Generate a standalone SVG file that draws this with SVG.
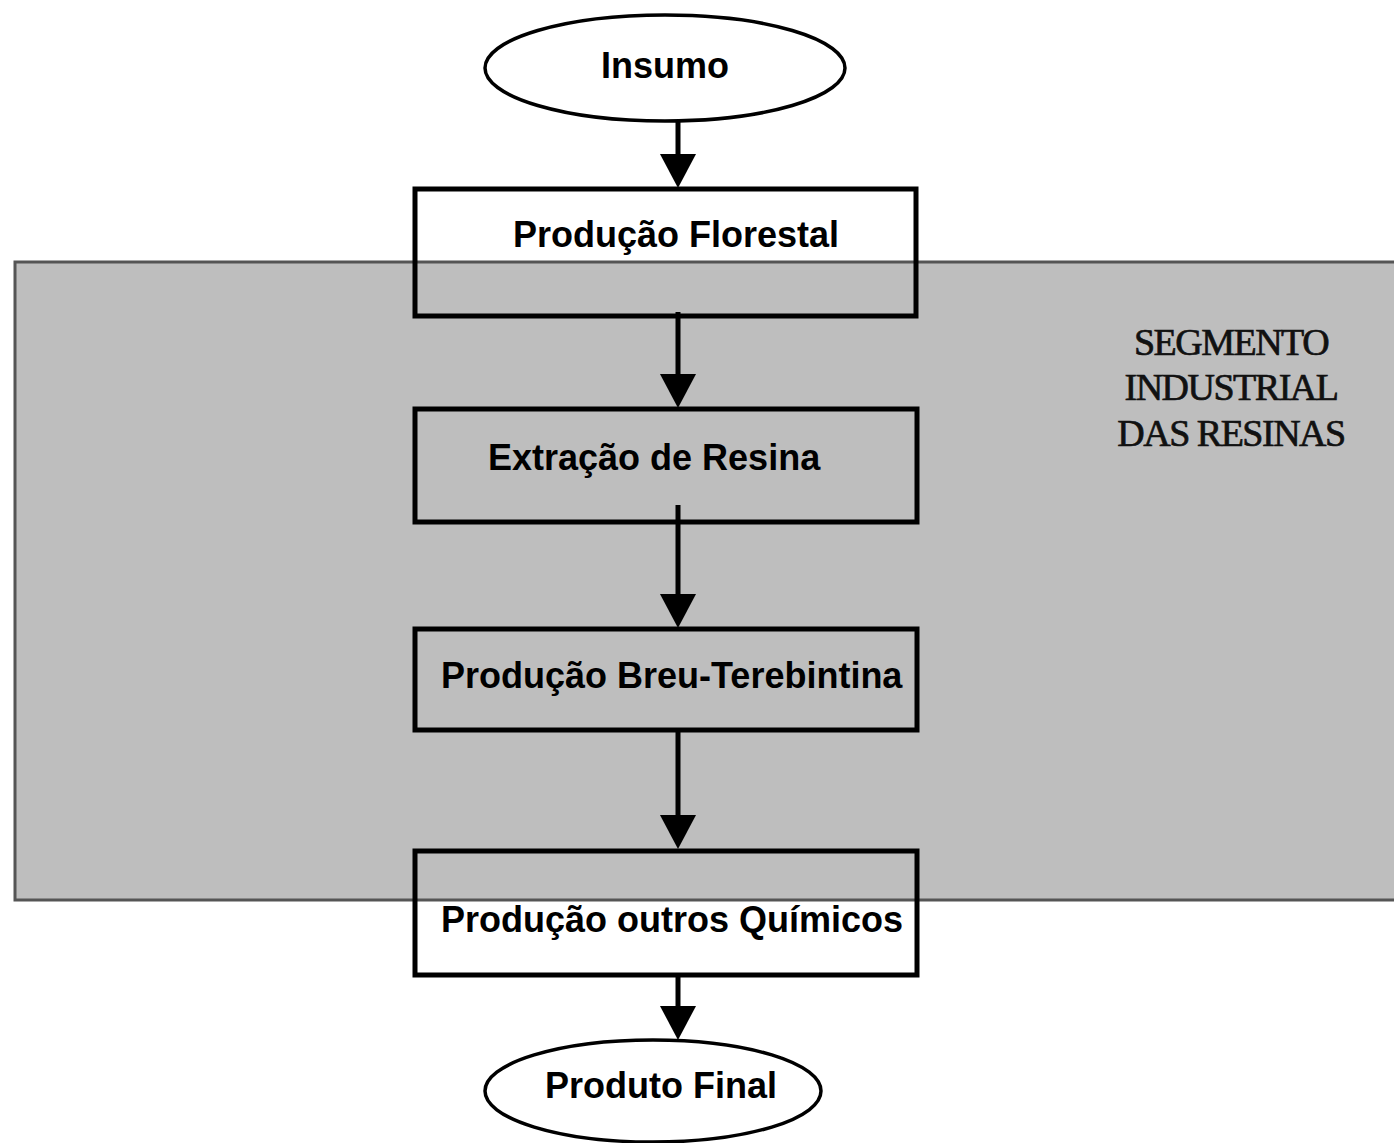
<svg xmlns="http://www.w3.org/2000/svg" width="1394" height="1143" viewBox="0 0 1394 1143">
<style>
.box{fill:none;stroke:#000;stroke-width:5}
.term{fill:#fff;stroke:#000;stroke-width:3.5}
.lbl{font-family:"Liberation Sans",Arial,sans-serif;font-weight:bold;font-size:36px;fill:#000}
.seg{font-family:"Liberation Serif","Times New Roman",serif;font-size:38px;letter-spacing:-1.5px;fill:#111;stroke:#111;stroke-width:0.7;text-anchor:middle}
.conn{stroke:#000;stroke-width:5;fill:none;marker-end:url(#ah)}
</style>
<defs>
<marker id="ah" markerUnits="userSpaceOnUse" markerWidth="34" markerHeight="36" viewBox="0 0 34 36" refX="0" refY="18" orient="auto">
<path d="M0,0 L34,18 L0,36 z" fill="#000"/>
</marker>
</defs>
<rect width="1394" height="1143" fill="#fff"/>
<g id="segment">
<rect x="15" y="262" width="1390" height="638" fill="#bebebe" stroke="#555" stroke-width="3"/>
<text class="seg" x="1231" y="355">SEGMENTO</text>
<text class="seg" x="1231" y="400">INDUSTRIAL</text>
<text class="seg" x="1231" y="446">DAS RESINAS</text>
</g>
<g id="connectors">
<line class="conn" x1="678" y1="122" x2="678" y2="154"/>
<line class="conn" x1="678" y1="312" x2="678" y2="374"/>
<line class="conn" x1="678" y1="505" x2="678" y2="594"/>
<line class="conn" x1="678" y1="730" x2="678" y2="815"/>
<line class="conn" x1="678" y1="975" x2="678" y2="1006"/>
</g>
<g id="insumo">
<ellipse class="term" cx="665" cy="68" rx="180" ry="53"/>
<text class="lbl" x="601" y="78">Insumo</text>
</g>
<g id="producao-florestal">
<rect class="box" x="415" y="189" width="501" height="127"/>
<text class="lbl" x="513" y="247">Produção Florestal</text>
</g>
<g id="extracao-resina">
<rect class="box" x="415" y="409" width="502" height="113"/>
<text class="lbl" x="488" y="470">Extração de Resina</text>
</g>
<g id="producao-breu">
<rect class="box" x="415" y="629" width="502" height="101"/>
<text class="lbl" x="441" y="688">Produção Breu-Terebintina</text>
</g>
<g id="producao-quimicos">
<rect class="box" x="415" y="851" width="502" height="124"/>
<text class="lbl" x="441" y="932">Produção outros Químicos</text>
</g>
<g id="produto-final">
<ellipse class="term" cx="653" cy="1091" rx="168" ry="51"/>
<text class="lbl" x="545" y="1098">Produto Final</text>
</g>
</svg>
